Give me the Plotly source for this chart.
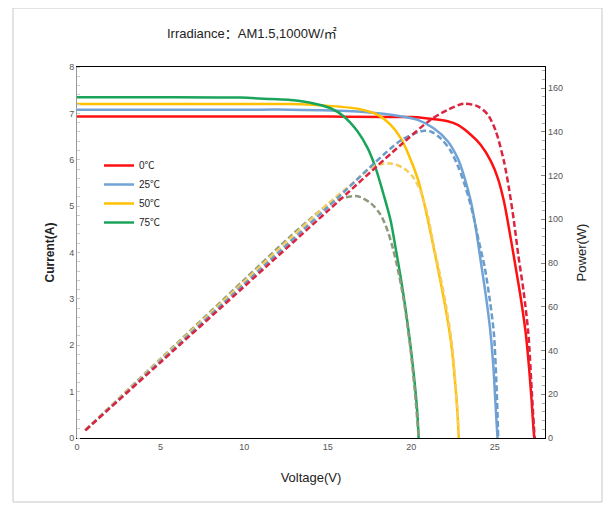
import plotly.graph_objects as go

# ---- data ----
labels = ["0℃", "25℃", "50℃", "75℃"]

# I-V curves (solid lines, left axis)
v_i_0 = [0, 5, 10, 15, 20, 20.74, 22.18, 22.78, 23.56, 24.16, 24.76, 25.18, 25.54, 25.84, 26.2, 26.55, 26.85, 27.05, 27.2, 27.3, 27.36]
i_0 = [6.93, 6.93, 6.93, 6.93, 6.92, 6.90, 6.83, 6.75, 6.54, 6.32, 5.97, 5.60, 5.11, 4.53, 3.78, 3.02, 2.25, 1.5, 0.8, 0.25, 0]

v_i_25 = [0, 5, 10, 12.77, 16.79, 18.77, 20.38, 21.34, 22.18, 22.78, 23.14, 23.56, 23.86, 24.16, 24.45, 24.7, 24.9, 25.02, 25.1, 25.16]
i_25 = [7.08, 7.08, 7.08, 7.08, 7.04, 6.97, 6.86, 6.68, 6.40, 6.03, 5.67, 5.11, 4.53, 3.8, 3.1, 2.4, 1.6, 0.85, 0.35, 0]

v_i_50 = [0, 5, 10, 12.77, 14.75, 16.79, 17.99, 18.77, 19.36, 19.84, 20.38, 20.74, 21.04, 21.34, 21.68, 22.05, 22.4, 22.62, 22.76, 22.84]
i_50 = [7.20, 7.20, 7.20, 7.20, 7.17, 7.10, 6.97, 6.75, 6.47, 6.11, 5.60, 5.11, 4.62, 4.10, 3.5, 2.8, 2.0, 1.2, 0.55, 0]

v_i_75 = [0, 5, 9.8, 11.6, 12.77, 13.97, 15.17, 15.95, 16.79, 17.39, 17.87, 18.35, 18.77, 19.06, 19.35, 19.65, 19.95, 20.2, 20.36, 20.44]
i_75 = [7.35, 7.35, 7.34, 7.31, 7.29, 7.23, 7.11, 6.94, 6.61, 6.25, 5.82, 5.24, 4.68, 4.10, 3.5, 2.8, 2.0, 1.2, 0.55, 0]

# P-V curves (dashed lines, right axis)
v_p_0 = [0.5, 5, 10, 15, 19.4, 21.16, 22.18, 23.14, 23.98, 24.58, 25.06, 25.54, 25.84, 26.14, 26.4, 26.72, 27.0, 27.22, 27.38]
p_0 = [3.5, 34.6, 69.2, 103.8, 134.2, 145.5, 150, 152.8, 151.6, 147.8, 140.2, 126.6, 114.3, 99.2, 83.7, 67, 48, 20, 0]

v_p_25 = [0.5, 5, 10, 15, 19.36, 20.4, 20.8, 21.2, 21.76, 22.36, 22.84, 23.26, 23.7, 24.04, 24.4, 24.7, 24.94, 25.12, 25.2]
p_25 = [3.5, 35.2, 70.3, 105.5, 136, 139.8, 140.5, 140, 137, 131.2, 123.4, 114.3, 102, 90, 77.7, 63, 48, 20, 0]

v_p_50 = [0.5, 5, 10, 12.77, 15, 16.5, 17.75, 18.77, 19.54, 20.14, 20.56, 20.74, 20.98, 21.34, 21.68, 22.05, 22.4, 22.62, 22.76, 22.84]
p_50 = [3.6, 35.8, 71.5, 91.3, 107, 116.5, 124.3, 125.5, 123.4, 118.9, 112.9, 108.3, 102, 88, 76, 61.7, 44.8, 27, 12.5, 0]

v_p_75 = [0.5, 5, 10, 12.77, 14.0, 15.17, 15.95, 16.79, 17.57, 18.17, 18.59, 18.89, 19.18, 19.55, 19.96, 20.26, 20.44]
p_75 = [3.6, 36.2, 72.3, 92.2, 100.5, 107.5, 109.8, 110.5, 107.4, 102, 94.6, 86.9, 77.7, 63, 40, 17.4, 0]

x_ticks = [0, 5, 10, 15, 20, 25]
y_ticks = [0, 1, 2, 3, 4, 5, 6, 7, 8]
y2_ticks = [0, 20, 40, 60, 80, 100, 120, 140, 160]

solid_colors = ["#ff1010", "#72a3d6", "#ffc000", "#1aa45a"]
dash_colors = ["#dc2340", "#6a9cc9", "#f6cd5c", "#8c9a7c"]

FONT = "Liberation Sans Narrow, Liberation Sans, Noto Sans CJK SC, sans-serif"

fig = go.Figure()

iv = [(v_i_0, i_0), (v_i_25, i_25), (v_i_50, i_50), (v_i_75, i_75)]
pv = [(v_p_0, p_0), (v_p_25, p_25), (v_p_50, p_50), (v_p_75, p_75)]

# dashed power curves (drawn first, behind)
for k in range(3, -1, -1):
    vx, py = pv[k]
    fig.add_trace(go.Scatter(
        x=vx, y=py, mode="lines", yaxis="y2", showlegend=False,
        line=dict(color=dash_colors[k], width=2.5, dash="6px,3px", shape="spline", smoothing=0.8),
        hoverinfo="skip"))

# solid current curves
for k in range(4):
    vx, iy = iv[k]
    fig.add_trace(go.Scatter(
        x=vx, y=iy, mode="lines", name=labels[k], yaxis="y",
        line=dict(color=solid_colors[k], width=2.5, shape="spline", smoothing=0.8)))

# page has an 8px body margin; plot area on page: x 77..545, y 67..438
W, H = 605, 498
L, T = 69, 59
PW, PH = 468, 371
fig.update_layout(
    width=W, height=H,
    margin=dict(l=L, r=W - L - PW, t=T, b=H - T - PH),
    paper_bgcolor="white", plot_bgcolor="white",
    font=dict(family=FONT, size=10, color="#333"),
    showlegend=True,
    legend=dict(x=(99 - 77) / PW, y=(438 - 151) / PH, xanchor="left", yanchor="top",
                bgcolor="rgba(0,0,0,0)", itemwidth=30, tracegroupgap=0,
                font=dict(family=FONT, size=10, color="#222")),
    xaxis=dict(range=[0, 28], tickvals=x_ticks, showgrid=False, zeroline=False,
               showline=True, linecolor="#000", linewidth=1.3, mirror=True,
               ticks="", tickfont=dict(size=9, color="#555"),
               title=dict(text="Voltage(V)", font=dict(size=13, color="#222"), standoff=21)),
    yaxis=dict(range=[0, 8], tickvals=y_ticks, showgrid=False, zeroline=False,
               showline=True, linecolor="#999", linewidth=1,
               ticks="", tickfont=dict(size=9, color="#555"),
               minor=dict(dtick=0.2, ticks="inside", ticklen=3, tickcolor="#ccc"),
               title=dict(text="<b>Current(A)</b>", font=dict(size=12, color="#222"), standoff=11)),
    yaxis2=dict(range=[0, 169.6], tickvals=y2_ticks, overlaying="y", side="right",
                showgrid=False, zeroline=False, showline=True, linecolor="#000", linewidth=1.3,
                ticks="inside", ticklen=4, tickcolor="#888",
                minor=dict(dtick=4, ticks="inside", ticklen=3, tickcolor="#aaa"),
                tickfont=dict(size=9, color="#555"),
                title=dict(text="Power(W)", font=dict(size=13, color="#222"), standoff=14)),
    annotations=[dict(text="Irradiance：AM1.5,1000W/㎡", xref="paper", yref="paper",
                      x=(252 - 77) / PW, y=(438 - 34) / PH, xanchor="center", yanchor="middle",
                      showarrow=False, font=dict(family=FONT, size=13, color="#222"))],
    shapes=[dict(type="rect", xref="paper", yref="paper",
                 x0=(13 - 77) / PW, x1=(602 - 77) / PW,
                 y0=(438 - 502) / PH, y1=(438 - 8) / PH,
                 line=dict(color="#c8c8c8", width=1), fillcolor="rgba(0,0,0,0)", layer="below")],
)

fig.write_html("out.html")
